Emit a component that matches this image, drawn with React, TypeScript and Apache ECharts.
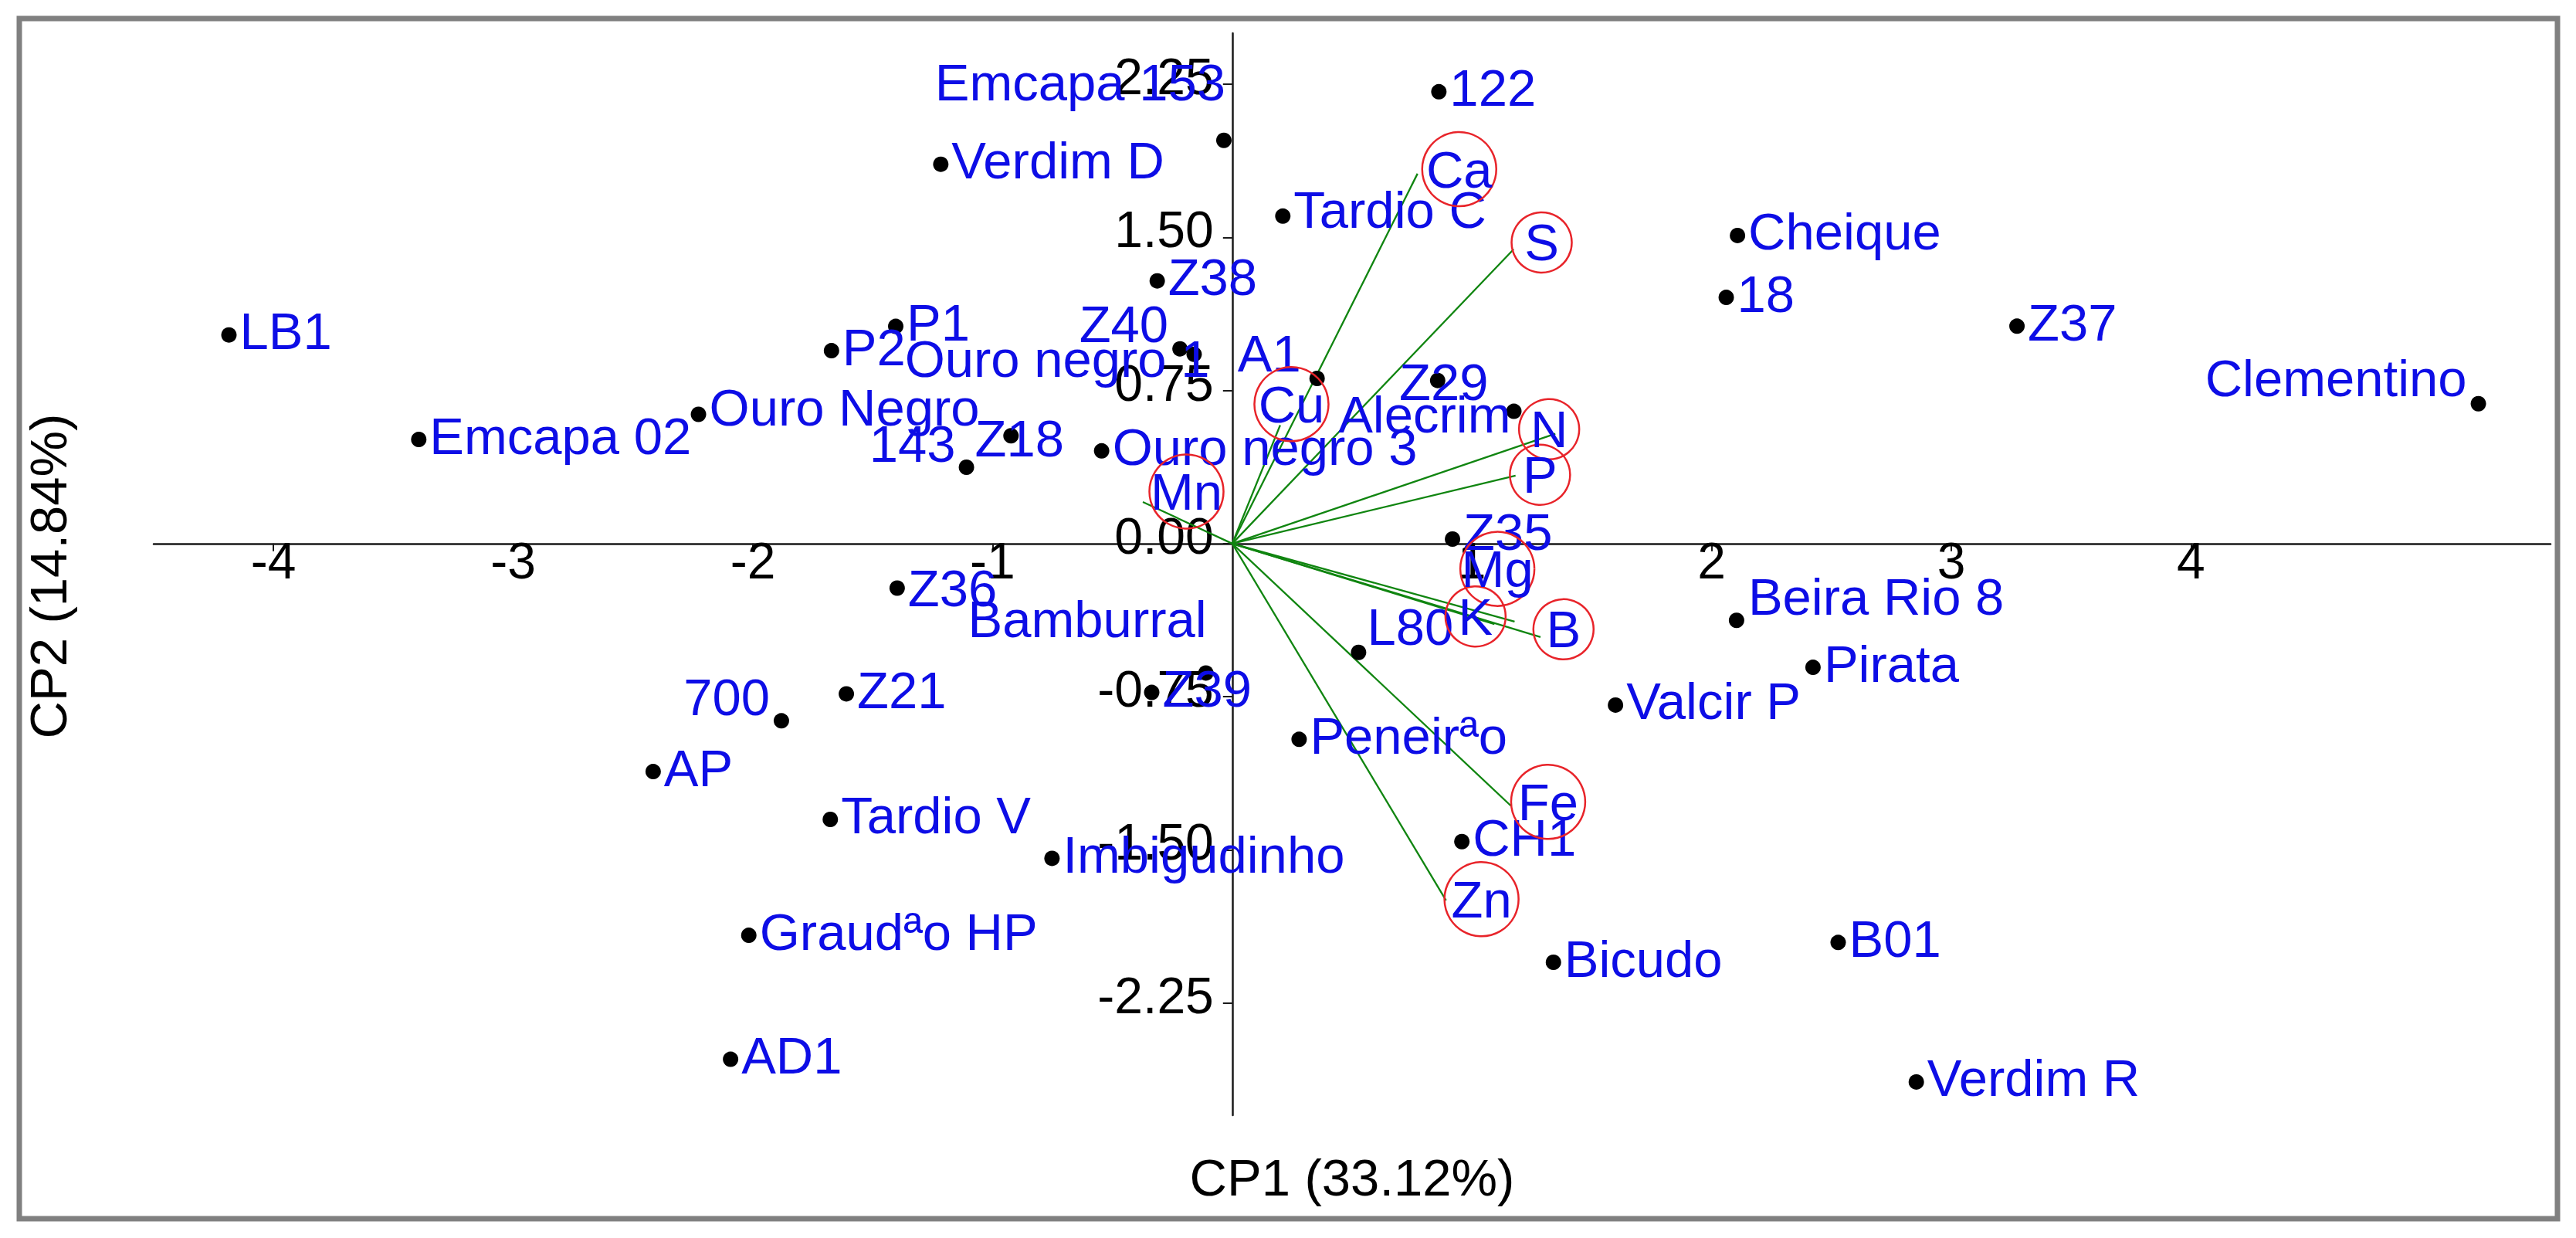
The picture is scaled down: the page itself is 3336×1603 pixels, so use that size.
import React, { useEffect, useRef } from 'react';
import * as echarts from 'echarts';

// ---- Genotype scores (CP1, CP2) ----
const genotypes = [
  'LB1', 'Emcapa 02', 'Ouro Negro', 'P2', 'P1', '143', 'Z18', 'Verdim D', 'Emcapa 153', 'Z38',
  'Z40', 'Ouro negro 1', 'Ouro negro 3', '122', 'Tardio C', 'A1', 'Z29', 'Alecrim', 'Z35', 'Cheique',
  '18', 'Z37', 'Clementino', 'Z36', 'Bamburral', 'Z39', 'Z21', '700', 'AP', 'Tardio V',
  'Imbigudinho', 'Graudªo HP', 'AD1', 'L80', 'Peneirªo', 'CH1', 'Bicudo', 'Valcir P', 'Beira Rio 8', 'Pirata',
  'B01', 'Verdim R',
];
const genoX = [
  -4.186, -3.394, -2.227, -1.672, -1.404, -1.109, -0.923, -1.216, -0.035, -0.313,
  -0.218, -0.159, -0.545, 0.862, 0.211, 0.354, 0.857, 1.175, 0.919, 2.108,
  2.061, 3.274, 5.199, -1.398, -0.110, -0.336, -1.610, -1.881, -2.416, -1.677,
  -0.752, -2.017, -2.093, 0.527, 0.279, 0.958, 1.340, 1.599, 2.104, 2.423,
  2.528, 2.854,
];
const genoY = [
  1.022, 0.510, 0.633, 0.945, 1.064, 0.374, 0.528, 1.858, 1.975, 1.287,
  0.954, 0.927, 0.454, 2.213, 1.604, 0.809, 0.799, 0.648, 0.022, 1.509,
  1.206, 1.065, 0.685, -0.218, -0.634, -0.729, -0.736, -0.868, -1.117, -1.351,
  -1.542, -1.919, -2.526, -0.533, -0.959, -1.460, -2.051, -0.791, -0.376, -0.606,
  -1.954, -2.637,
];

// ---- Variable loadings (vector ends) and label positions ----
const variables = ['Ca', 'S', 'Cu', 'Mn', 'N', 'P', 'Mg', 'K', 'B', 'Fe', 'Zn'];
const vecX = [0.773, 1.174, 0.20, -0.373, 1.348, 1.182, 1.178, 1.094, 1.286, 1.163, 0.892];
const vecY = [1.812, 1.442, 0.58, 0.204, 0.538, 0.333, -0.382, -0.395, -0.458, -1.285, -1.748];
const varLabelX = [0.947, 1.291, 0.247, -0.191, 1.322, 1.284, 1.106, 1.015, 1.382, 1.318, 1.040];
const varLabelY = [1.834, 1.475, 0.683, 0.255, 0.560, 0.337, -0.124, -0.357, -0.420, -1.265, -1.742];

// ---- Axis ticks ----
const xTicks = [-4, -3, -2, -1, 1, 2, 3, 4];
const yTicks = [-2.25, -1.5, -0.75, 0, 0.75, 1.5, 2.25];

// ---- Axis ranges ----
const X_MIN = -4.5;
const X_MAX = 5.5;
const Y_MIN = -2.8;
const Y_MAX = 2.5;

// ---- Label placement (style only) ----
type Place = { pos: string; dx: number; dy: number };
const DEFAULT_PLACE: Place = { pos: 'right', dx: -1, dy: -5 };
const LABEL_LAYOUT: Record<string, Place> = {
  'Emcapa 153': { pos: 'left', dx: 17, dy: -75 },
  'Clementino': { pos: 'left', dx: 0, dy: -33 },
  '700': { pos: 'left', dx: 0, dy: -31 },
  'Z40': { pos: 'left', dx: 0, dy: -32 },
  'Ouro negro 1': { pos: 'left', dx: 35, dy: 6 },
  '143': { pos: 'left', dx: 1, dy: -30 },
  'Z18': { pos: 'inside', dx: 11, dy: 3 },
  'A1': { pos: 'left', dx: -6, dy: -32 },
  'Z29': { pos: 'inside', dx: 8, dy: 2 },
  'Alecrim': { pos: 'left', dx: 11, dy: 4 },
  'Bamburral': { pos: 'left', dx: 16, dy: -70 },
  'L80': { pos: 'right', dx: -4, dy: -33 },
  'Beira Rio 8': { pos: 'right', dx: 0, dy: -31 },
  'Z35': { pos: 'right', dx: -1, dy: -10 },
  'Ouro Negro': { pos: 'right', dx: -1, dy: -9 },
  'Tardio C': { pos: 'right', dx: -1, dy: -8 },
  'Z36': { pos: 'right', dx: -1, dy: 0 },
};

const FONT = 'Liberation Sans, Arial, sans-serif';
const BLUE = '#0d0de6';
const DOT = 20;
const GAP = 5;

// grid geometry
const GRID = { left: 199, right: 33, top: 43, bottom: 159 };
const W = 3336;
const H = 1603;

function placeLabel(p: Place) {
  const half = DOT / 2;
  if (p.pos === 'left') {
    return { position: [-GAP + p.dx, half + p.dy], align: 'right', verticalAlign: 'middle' };
  }
  if (p.pos === 'inside') {
    return { position: [half + p.dx, half + p.dy], align: 'center', verticalAlign: 'middle' };
  }
  return { position: [DOT + GAP + p.dx, half + p.dy], align: 'left', verticalAlign: 'middle' };
}

export default function App() {
  const ref = useRef<HTMLDivElement>(null);

  useEffect(() => {
    if (!ref.current) return;
    const chart = echarts.init(ref.current, null, { renderer: 'svg' });

    const gridW = W - GRID.left - GRID.right;
    const gridH = H - GRID.top - GRID.bottom;
    // shift axes so that they cross at (0, 0)
    const yAxisOffset = -((0 - X_MIN) / (X_MAX - X_MIN)) * gridW;
    const xAxisOffset = -((0 - Y_MIN) / (Y_MAX - Y_MIN)) * gridH;

    const genoData = genotypes.map((name, i) => {
      const p = LABEL_LAYOUT[name] || DEFAULT_PLACE;
      return {
        name,
        value: [genoX[i], genoY[i]],
        label: placeLabel(p),
      };
    });

    const varData = variables.map((name, i) => ({
      name,
      value: [varLabelX[i], varLabelY[i]],
      symbolSize: 60 + 18 * name.length,
    }));

    const vecData = variables.map((name, i) => ({
      name,
      coords: [
        [0, 0],
        [vecX[i], vecY[i]],
      ],
    }));

    chart.setOption({
      animation: false,
      textStyle: { fontFamily: FONT },
      grid: {
        left: GRID.left,
        right: GRID.right,
        top: GRID.top,
        bottom: GRID.bottom,
        containLabel: false,
        outerBoundsMode: 'none',
      },
      xAxis: {
        type: 'value',
        min: X_MIN,
        max: X_MAX,
        position: 'bottom',
        offset: xAxisOffset,
        axisLine: { show: true, onZero: false, lineStyle: { color: '#1a1a1a', width: 2.5 } },
        axisTick: { show: true, customValues: xTicks, length: 10, lineStyle: { color: '#1a1a1a', width: 2 } },
        axisLabel: {
          customValues: xTicks,
          margin: -11,
          fontSize: 66,
          color: '#000',
          fontFamily: FONT,
          formatter: (v: number) => String(v),
        },
        splitLine: { show: false },
      },
      yAxis: {
        type: 'value',
        min: Y_MIN,
        max: Y_MAX,
        position: 'left',
        offset: yAxisOffset,
        axisLine: { show: true, onZero: false, lineStyle: { color: '#1a1a1a', width: 2.5 } },
        axisTick: { show: true, customValues: yTicks, length: 12, lineStyle: { color: '#1a1a1a', width: 2 } },
        axisLabel: {
          customValues: yTicks,
          margin: 24,
          color: '#000',
          fontFamily: FONT,
          fontSize: 66,
          formatter: (v: number) => `{t|${v.toFixed(2)}}`,
          rich: {
            t: { fontSize: 66, fontFamily: FONT, color: '#000', padding: [0, 0, 20, 0] },
          },
        },
        splitLine: { show: false },
      },
      series: [
        {
          type: 'lines',
          coordinateSystem: 'cartesian2d',
          silent: true,
          z: 3,
          symbol: 'none',
          lineStyle: { color: '#108510', width: 2.3, opacity: 1, curveness: 0 },
          data: vecData,
        },
        {
          type: 'scatter',
          z: 4,
          symbol: 'circle',
          symbolSize: DOT,
          itemStyle: { color: '#000', opacity: 1 },
          label: {
            show: true,
            formatter: '{b}',
            color: BLUE,
            fontSize: 67,
            fontFamily: FONT,
          },
          data: genoData,
        },
        {
          type: 'scatter',
          z: 5,
          symbol: 'circle',
          itemStyle: { color: 'rgba(255,255,255,0)', borderColor: '#e8242a', borderWidth: 2.5, opacity: 1 },
          label: {
            show: true,
            position: 'inside',
            formatter: '{b}',
            color: BLUE,
            fontSize: 67,
            fontFamily: FONT,
          },
          data: varData,
        },
      ],
      graphic: [
        {
          type: 'rect',
          z: -10,
          silent: true,
          shape: { x: 25, y: 24, width: 3287, height: 1554 },
          style: { fill: 'none', stroke: '#808080', lineWidth: 7 },
        },
        {
          type: 'text',
          x: 1751,
          y: 1524,
          silent: true,
          style: {
            text: 'CP1 (33.12%)',
            fontSize: 67,
            fontFamily: FONT,
            fill: '#000',
            align: 'center',
            verticalAlign: 'middle',
          },
        },
        {
          type: 'text',
          x: 62,
          y: 746,
          rotation: Math.PI / 2,
          silent: true,
          style: {
            text: 'CP2 (14.84%)',
            fontSize: 67,
            fontFamily: FONT,
            fill: '#000',
            align: 'center',
            verticalAlign: 'middle',
          },
        },
      ],
    });

    return () => {
      chart.dispose();
    };
  }, []);

  return (
    <div
      ref={ref}
      style={{ position: 'fixed', left: 0, top: 0, width: W, height: H, background: '#fff' }}
    />
  );
}
